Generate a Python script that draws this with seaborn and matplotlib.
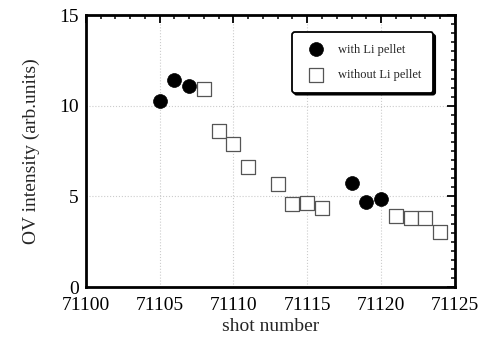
import numpy as np
import pandas as pd
import matplotlib
matplotlib.use("Agg")
import matplotlib.pyplot as plt
import seaborn as sns
from matplotlib.ticker import MultipleLocator

# data
with_shots = [71105, 71106, 71107, 71118, 71119, 71120]
with_vals = [10.25, 11.45, 11.1, 5.75, 4.7, 4.85]

without_shots = [71108, 71109, 71110, 71111, 71113, 71114, 71115, 71116,
                 71121, 71122, 71123, 71124]
without_vals = [10.95, 8.6, 7.9, 6.6, 5.7, 4.6, 4.65, 4.35,
                3.9, 3.8, 3.8, 3.05]

sns.set_theme(style="white")
plt.rcParams['font.family'] = ['Liberation Serif', 'DejaVu Serif']

fig = plt.figure(figsize=(4.88, 3.37), dpi=100)
ax = fig.add_axes([0.176, 0.148, 0.756, 0.807])

df_with = pd.DataFrame({'shot': with_shots, 'val': with_vals})
df_without = pd.DataFrame({'shot': without_shots, 'val': without_vals})

sns.scatterplot(data=df_with, x='shot', y='val', ax=ax, marker='o', s=100,
                color='black', edgecolor='black', linewidth=0.5,
                label='with Li pellet', zorder=3)
sns.scatterplot(data=df_without, x='shot', y='val', ax=ax, marker='s', s=105,
                facecolor='white', edgecolor='#555555', linewidth=0.9,
                label='without Li pellet', zorder=3)

ax.set_xlim(71100, 71125)
ax.set_ylim(0, 15)
ax.xaxis.set_major_locator(MultipleLocator(5))
ax.xaxis.set_minor_locator(MultipleLocator(1))
ax.yaxis.set_major_locator(MultipleLocator(5))
ax.yaxis.set_minor_locator(MultipleLocator(0.5))
ax.ticklabel_format(useOffset=False, style='plain', axis='x')

ax.tick_params(which='both', direction='in', top=True, right=True,
               labelsize=14, colors='black')
ax.tick_params(axis='x', which='major', pad=7)
ax.tick_params(axis='y', which='major', pad=5)
ax.tick_params(which='major', length=6, width=1.3)
ax.tick_params(which='minor', length=3, width=1.1)
for sp in ax.spines.values():
    sp.set_linewidth(2)
    sp.set_color('black')

ax.grid(True, which='major', linestyle=':', color='#cccccc', linewidth=0.8)

ax.set_xlabel('shot number', fontsize=14, labelpad=3)
ax.set_ylabel('OV intensity (arb.units)', fontsize=14, labelpad=14)

leg = ax.legend(loc='upper right', bbox_to_anchor=(0.958, 0.96), fontsize=9,
                frameon=True, fancybox=True, borderpad=0.9,
                labelspacing=1.1, handletextpad=0.8, markerscale=1.0,
                shadow={'ox': 1.5, 'oy': -1.5, 'color': 'black',
                        'alpha': 1.0})
leg.get_frame().set_edgecolor('black')
leg.get_frame().set_linewidth(1.3)

fig.savefig('out.png', dpi=100)
